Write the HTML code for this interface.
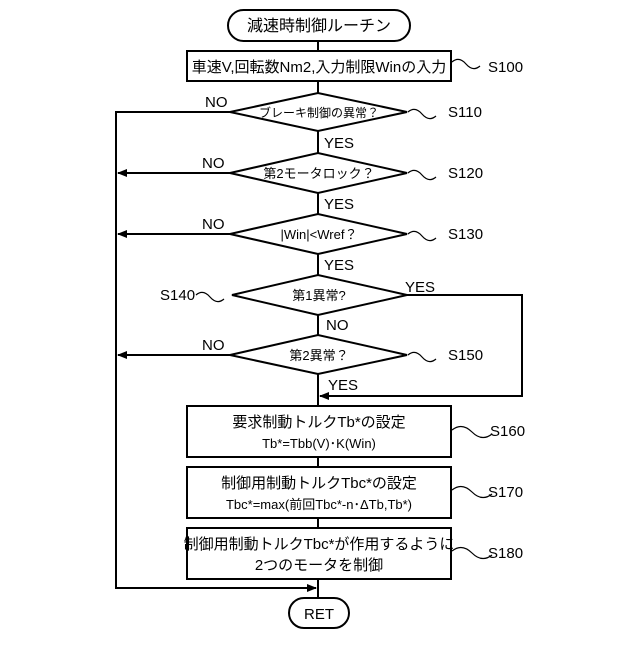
<!DOCTYPE html>
<html><head><meta charset="utf-8"><style>
body{margin:0;background:#fff}
svg text{font-family:"Liberation Sans","Noto Sans CJK JP",sans-serif;fill:#000}
</style></head><body>
<svg width="640" height="640" viewBox="0 0 640 640" xmlns="http://www.w3.org/2000/svg">
<defs><marker id="a" markerWidth="10" markerHeight="8" refX="9" refY="4" orient="auto" markerUnits="userSpaceOnUse"><path d="M0,0L10,4L0,8z" fill="#000"/></marker></defs>
<g stroke="#000" stroke-width="2" fill="none">
<rect x="228" y="10" width="182" height="31" rx="15.5"/>
<rect x="187" y="51" width="264" height="30"/>
<line x1="318" y1="41" x2="318" y2="51"/>
<line x1="318" y1="81" x2="318" y2="93"/>
<polygon points="230,112 318,93 407,112 318,131"/>
<line x1="318" y1="131" x2="318" y2="153"/>
<polygon points="230,173 318,153 407,173 318,193"/>
<line x1="318" y1="193" x2="318" y2="214"/>
<polygon points="230,234 318,214 407,234 318,254"/>
<line x1="318" y1="254" x2="318" y2="275"/>
<polygon points="232,295 318,275 407,295 318,315"/>
<line x1="318" y1="315" x2="318" y2="335"/>
<polygon points="230,355 318,335 407,355 318,374"/>
<line x1="318" y1="374" x2="318" y2="406"/>
<polyline points="407,295 522,295 522,396 320,396" marker-end="url(#a)"/>
<polyline points="230,112 116,112 116,588 316,588" marker-end="url(#a)"/>
<line x1="230" y1="173" x2="118" y2="173" marker-end="url(#a)"/>
<line x1="230" y1="234" x2="118" y2="234" marker-end="url(#a)"/>
<line x1="230" y1="355" x2="118" y2="355" marker-end="url(#a)"/>
<rect x="187" y="406" width="264" height="51"/>
<line x1="318" y1="457" x2="318" y2="467"/>
<rect x="187" y="467" width="264" height="51"/>
<line x1="318" y1="518" x2="318" y2="528"/>
<rect x="187" y="528" width="264" height="51"/>
<line x1="318" y1="579" x2="318" y2="598"/>
<rect x="289" y="598" width="60" height="30" rx="15"/>
</g>
<g stroke="#000" stroke-width="1.2" fill="none">
<path d="M452,62 q7,-6 14,2 t14,2"/>
<path d="M408,112 q7,-6 14,2 t14,2"/>
<path d="M408,173 q7,-6 14,2 t14,2"/>
<path d="M408,234 q7,-6 14,2 t14,2"/>
<path d="M196,295 q7,-6 14,2 t14,2"/>
<path d="M408,355 q7,-6 14,2 t14,2"/>
<path d="M452,430 q10,-8 20,2 t20,2"/>
<path d="M452,490 q10,-8 20,2 t20,2"/>
<path d="M452,551 q10,-8 20,2 t20,2"/>
</g>
<g font-size="14" text-anchor="middle">
<text x="319" y="31" font-size="16">減速時制御ルーチン</text>
<text x="319" y="72" font-size="15">車速V,回転数Nm2,入力制限Winの入力</text>
<text x="319" y="117" font-size="12">ブレーキ制御の異常？</text>
<text x="319" y="178" font-size="13">第2モータロック？</text>
<text x="319" y="239" font-size="13">|Win|&lt;Wref？</text>
<text x="319" y="300" font-size="13">第1異常?</text>
<text x="319" y="360" font-size="13">第2異常？</text>
<text x="319" y="427" font-size="15">要求制動トルクTb*の設定</text>
<text x="319" y="448" font-size="13">Tb*=Tbb(V)･K(Win)</text>
<text x="319" y="488" font-size="15">制御用制動トルクTbc*の設定</text>
<text x="319" y="509" font-size="13">Tbc*=max(前回Tbc*-n･ΔTb,Tb*)</text>
<text x="319" y="549" font-size="15">制御用制動トルクTbc*が作用するように</text>
<text x="319" y="570" font-size="15">2つのモータを制御</text>
<text x="319" y="619" font-size="15">RET</text>
</g>
<g font-size="15">
<text x="488" y="72">S100</text>
<text x="448" y="117">S110</text>
<text x="448" y="178">S120</text>
<text x="448" y="239">S130</text>
<text x="160" y="300">S140</text>
<text x="448" y="360">S150</text>
<text x="490" y="436">S160</text>
<text x="488" y="497">S170</text>
<text x="488" y="558">S180</text>
<text x="205" y="107">NO</text>
<text x="202" y="168">NO</text>
<text x="202" y="229">NO</text>
<text x="202" y="350">NO</text>
<text x="324" y="148">YES</text>
<text x="324" y="209">YES</text>
<text x="324" y="270">YES</text>
<text x="405" y="292">YES</text>
<text x="326" y="330">NO</text>
<text x="328" y="390">YES</text>
</g>
</svg>
</body></html>
